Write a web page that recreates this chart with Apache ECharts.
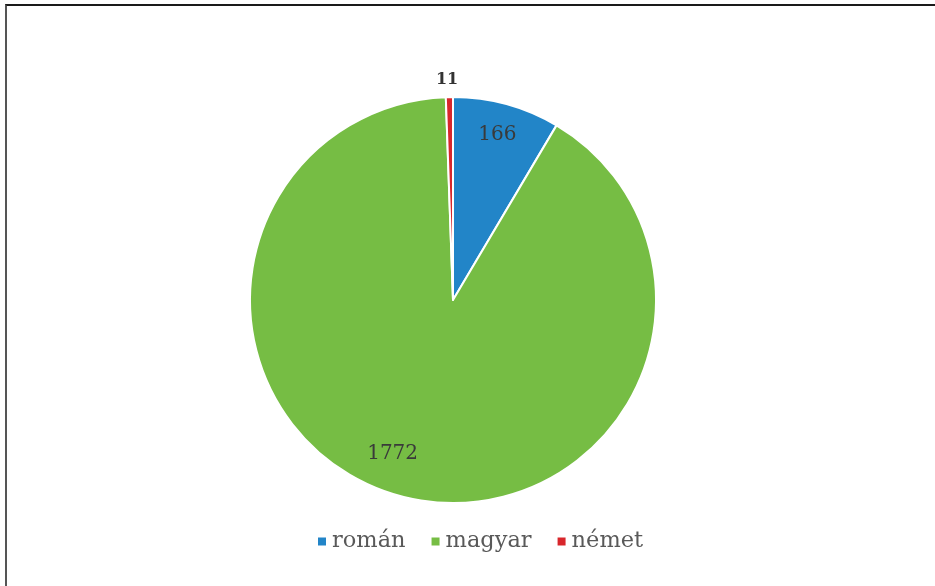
<!DOCTYPE html>
<html>
<head>
<meta charset="utf-8">
<script src="https://cdn.jsdelivr.net/npm/echarts@6/dist/echarts.min.js"></script>
<style>
  html, body { margin: 0; padding: 0; background: #fff; }
  #frame { position: absolute; left: 5px; top: 4px; width: 2000px; height: 2000px;
           border-top: 2px solid #1a1a1a; border-left: 2px solid #555; box-sizing: border-box; }
  #chart { position: absolute; left: 0; top: 0; width: 935px; height: 586px; }
</style>
</head>
<body>
<div id="frame"></div>
<div id="chart"></div>
<script>
const categories = ['román', 'magyar', 'német'];
const values = [166, 1772, 11];
const colors = ['#2285c8', '#76bd44', '#d8262b'];

const chart = echarts.init(document.getElementById('chart'), null, { renderer: 'canvas' });

const baseData = categories.map((c, i) => ({ name: c, value: values[i], itemStyle: { color: colors[i] } }));
const labelData = categories.map((c, i) => ({
  name: c, value: values[i],
  label: i === 2
    ? { position: 'outside', fontWeight: 'bold', fontSize: 16, color: '#333', distanceToLabelLine: 0 }
    : { position: 'inside' }
}));

const option = {
  animation: false,
  backgroundColor: 'transparent',
  legend: {
    data: categories,
    left: 313,
    top: 525,
    icon: 'rect',
    itemWidth: 8,
    itemHeight: 8,
    itemGap: 26,
    itemStyle: { borderWidth: 0 },
    textStyle: { fontFamily: 'DejaVu Serif', fontSize: 22.5, color: '#595959', padding: [0, 0, 0, 1] }
  },
  series: [
    {
      type: 'pie',
      center: [453, 300],
      radius: [0, 203],
      startAngle: 90,
      clockwise: true,
      data: baseData,
      label: { show: false },
      labelLine: { show: false },
      itemStyle: { borderColor: '#ffffff', borderWidth: 2 },
      emphasis: { disabled: true }
    },
    {
      type: 'pie',
      center: [453, 300],
      radius: [142, 203],
      startAngle: 90,
      clockwise: true,
      silent: true,
      data: labelData,
      itemStyle: { color: 'rgba(0,0,0,0)' },
      label: {
        show: true,
        formatter: '{c}',
        fontFamily: 'DejaVu Serif',
        fontSize: 20,
        color: '#3a3a3a'
      },
      labelLine: { show: false, length: 19, length2: 0 },
      labelLayout: function (p) {
        if (p.dataIndex === 2) return { align: 'center', dx: -2, dy: 2 };
        if (p.dataIndex === 1) return { dx: -17, dy: -16 };
        return { dx: -2, dy: 4 };
      },
      emphasis: { disabled: true },
      legendHoverLink: false
    }
  ]
};
chart.setOption(option);
</script>
</body>
</html>
